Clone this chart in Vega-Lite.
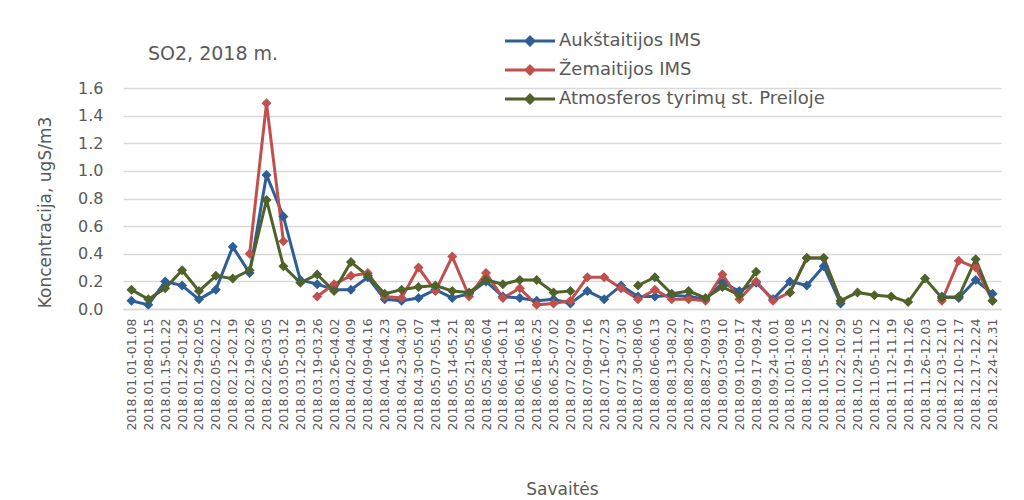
{
  "$schema": "https://vega.github.io/schema/vega-lite/v6.json",
  "width": 878,
  "height": 221,
  "autosize": {"type": "none"},
  "padding": {"left": 123, "top": 88, "right": 23, "bottom": 191},
  "background": "white",
  "config": {
    "view": {"stroke": null},
    "font": "DejaVu Sans"
  },
  "title": {
    "text": "SO2, 2018 m.",
    "anchor": "start",
    "frame": "group",
    "dx": 25,
    "offset": 0,
    "dy": 43,
    "fontSize": 19,
    "fontWeight": "normal",
    "color": "#595959",
    "font": "DejaVu Sans"
  },
  "data": {
    "values": [
      {"w": "2018.01.01-01.08", "a": 0.06, "z": null, "p": 0.14},
      {"w": "2018.01.08-01.15", "a": 0.03, "z": null, "p": 0.07},
      {"w": "2018.01.15-01.22", "a": 0.20, "z": null, "p": 0.15},
      {"w": "2018.01.22-01.29", "a": 0.17, "z": null, "p": 0.28},
      {"w": "2018.01.29-02.05", "a": 0.07, "z": null, "p": 0.13},
      {"w": "2018.02.05-02.12", "a": 0.14, "z": null, "p": 0.24},
      {"w": "2018.02.12-02.19", "a": 0.45, "z": null, "p": 0.22},
      {"w": "2018.02.19-02.26", "a": 0.26, "z": 0.40, "p": 0.28},
      {"w": "2018.02.26-03.05", "a": 0.97, "z": 1.49, "p": 0.79},
      {"w": "2018.03.05-03.12", "a": 0.67, "z": 0.49, "p": 0.31},
      {"w": "2018.03.12-03.19", "a": 0.21, "z": null, "p": 0.19},
      {"w": "2018.03.19-03.26", "a": 0.18, "z": 0.09, "p": 0.25},
      {"w": "2018.03.26-04.02", "a": 0.14, "z": 0.18, "p": 0.13},
      {"w": "2018.04.02-04.09", "a": 0.14, "z": 0.24, "p": 0.34},
      {"w": "2018.04.09-04.16", "a": 0.23, "z": 0.26, "p": 0.24},
      {"w": "2018.04.16-04.23", "a": 0.07, "z": 0.09, "p": 0.11},
      {"w": "2018.04.23-04.30", "a": 0.06, "z": 0.08, "p": 0.14},
      {"w": "2018.04.30-05.07", "a": 0.08, "z": 0.30, "p": 0.16},
      {"w": "2018.05.07-05.14", "a": 0.14, "z": 0.13, "p": 0.17},
      {"w": "2018.05.14-05.21", "a": 0.08, "z": 0.38, "p": 0.13},
      {"w": "2018.05.21-05.28", "a": 0.11, "z": 0.09, "p": 0.12},
      {"w": "2018.05.28-06.04", "a": 0.20, "z": 0.26, "p": 0.21},
      {"w": "2018.06.04-06.11", "a": 0.09, "z": 0.08, "p": 0.18},
      {"w": "2018.06.11-06.18", "a": 0.08, "z": 0.15, "p": 0.21},
      {"w": "2018.06.18-06.25", "a": 0.06, "z": 0.03, "p": 0.21},
      {"w": "2018.06.25-07.02", "a": 0.07, "z": 0.04, "p": 0.12},
      {"w": "2018.07.02-07.09", "a": 0.04, "z": 0.06, "p": 0.13},
      {"w": "2018.07.09-07.16", "a": 0.13, "z": 0.23, "p": null},
      {"w": "2018.07.16-07.23", "a": 0.07, "z": 0.23, "p": null},
      {"w": "2018.07.23-07.30", "a": 0.17, "z": 0.15, "p": null},
      {"w": "2018.07.30-08.06", "a": 0.09, "z": 0.07, "p": 0.17},
      {"w": "2018.08.06-06.13", "a": 0.09, "z": 0.14, "p": 0.23},
      {"w": "2018.08.13-08.20", "a": 0.10, "z": 0.07, "p": 0.11},
      {"w": "2018.08.20-08.27", "a": 0.09, "z": 0.07, "p": 0.13},
      {"w": "2018.08.27-09.03", "a": 0.07, "z": 0.06, "p": 0.08},
      {"w": "2018.09.03-09.10", "a": 0.19, "z": 0.25, "p": 0.16},
      {"w": "2018.09.10-09.17", "a": 0.13, "z": 0.07, "p": 0.10},
      {"w": "2018.09.17-09.24", "a": 0.19, "z": 0.20, "p": 0.27},
      {"w": "2018.09.24-10.01", "a": 0.07, "z": 0.06, "p": null},
      {"w": "2018.10.01-10.08", "a": 0.20, "z": 0.12, "p": 0.12},
      {"w": "2018.10.08-10.15", "a": 0.17, "z": 0.37, "p": 0.37},
      {"w": "2018.10.15-10.22", "a": 0.31, "z": 0.37, "p": 0.37},
      {"w": "2018.10.22-10.29", "a": 0.04, "z": 0.06, "p": 0.06},
      {"w": "2018.10.29-11.05", "a": null, "z": null, "p": 0.12},
      {"w": "2018.11.05-11.12", "a": null, "z": null, "p": 0.10},
      {"w": "2018.11.12-11.19", "a": null, "z": null, "p": 0.09},
      {"w": "2018.11.19-11.26", "a": null, "z": null, "p": 0.05},
      {"w": "2018.11.26-12.03", "a": null, "z": null, "p": 0.22},
      {"w": "2018.12.03-12.10", "a": 0.09, "z": 0.06, "p": 0.08},
      {"w": "2018.12.10-12.17", "a": 0.08, "z": 0.35, "p": 0.09},
      {"w": "2018.12.17-12.24", "a": 0.21, "z": 0.30, "p": 0.36},
      {"w": "2018.12.24-12.31", "a": 0.11, "z": 0.06, "p": 0.06}
    ]
  },
  "transform": [
    {"fold": ["a", "z", "p"], "as": ["s", "v"]}
  ],
  "encoding": {
    "x": {
      "field": "w",
      "type": "ordinal",
      "sort": null,
      "scale": {"type": "point", "padding": 0.5},
      "axis": {
        "title": "Savaitės",
        "titleFontSize": 17,
        "titleFontWeight": "normal",
        "titleColor": "#595959",
        "titlePadding": 52,
        "labelAngle": -90,
        "labelFontSize": 12.5,
        "labelColor": "#595959",
        "labelPadding": 9,
        "labelOverlap": false,
        "ticks": false,
        "domainColor": "#d9d9d9",
        "domainWidth": 1.5,
        "grid": false
      }
    },
    "y": {
      "field": "v",
      "type": "quantitative",
      "scale": {"domain": [0, 1.6], "nice": false},
      "axis": {
        "title": "Koncentracija, ugS/m3",
        "titleFontSize": 17,
        "titleFontWeight": "normal",
        "titleColor": "#595959",
        "titleX": -78,
        "titleY": 124,
        "titleAlign": "center",
        "titleBaseline": "middle",
        "values": [0, 0.2, 0.4, 0.6, 0.8, 1.0, 1.2, 1.4, 1.6],
        "format": ".1f",
        "labelFontSize": 16,
        "labelColor": "#595959",
        "labelPadding": 20,
        "ticks": false,
        "domain": false,
        "grid": true,
        "gridColor": "#d9d9d9",
        "gridWidth": 1.5
      }
    },
    "color": {
      "field": "s",
      "type": "nominal",
      "scale": {"domain": ["a", "z", "p"], "range": ["#2E5E96", "#C0504D", "#4F6228"]},
      "legend": {
        "title": null,
        "orient": "none",
        "legendX": 387,
        "legendY": -67,
        "labelExpr": "datum.label == 'a' ? 'Aukštaitijos IMS' : datum.label == 'z' ? 'Žemaitijos IMS' : 'Atmosferos tyrimų st. Preiloje'",
        "labelFontSize": 18,
        "labelColor": "#595959",
        "labelOffset": 9,
        "labelLimit": 400,
        "symbolType": "M-1.25,-0.075H1.25V0.075H-1.25Z M0,-0.3L0.3,0L0,0.3L-0.3,0Z",
        "symbolSize": 1600,
        "symbolStrokeWidth": 0,
        "symbolOpacity": 1,
        "rowPadding": -25
      }
    }
  },
  "layer": [
    {"mark": {"type": "line", "strokeWidth": 3}},
    {"mark": {"type": "point", "shape": "diamond", "filled": true, "size": 100, "opacity": 1}}
  ]
}
